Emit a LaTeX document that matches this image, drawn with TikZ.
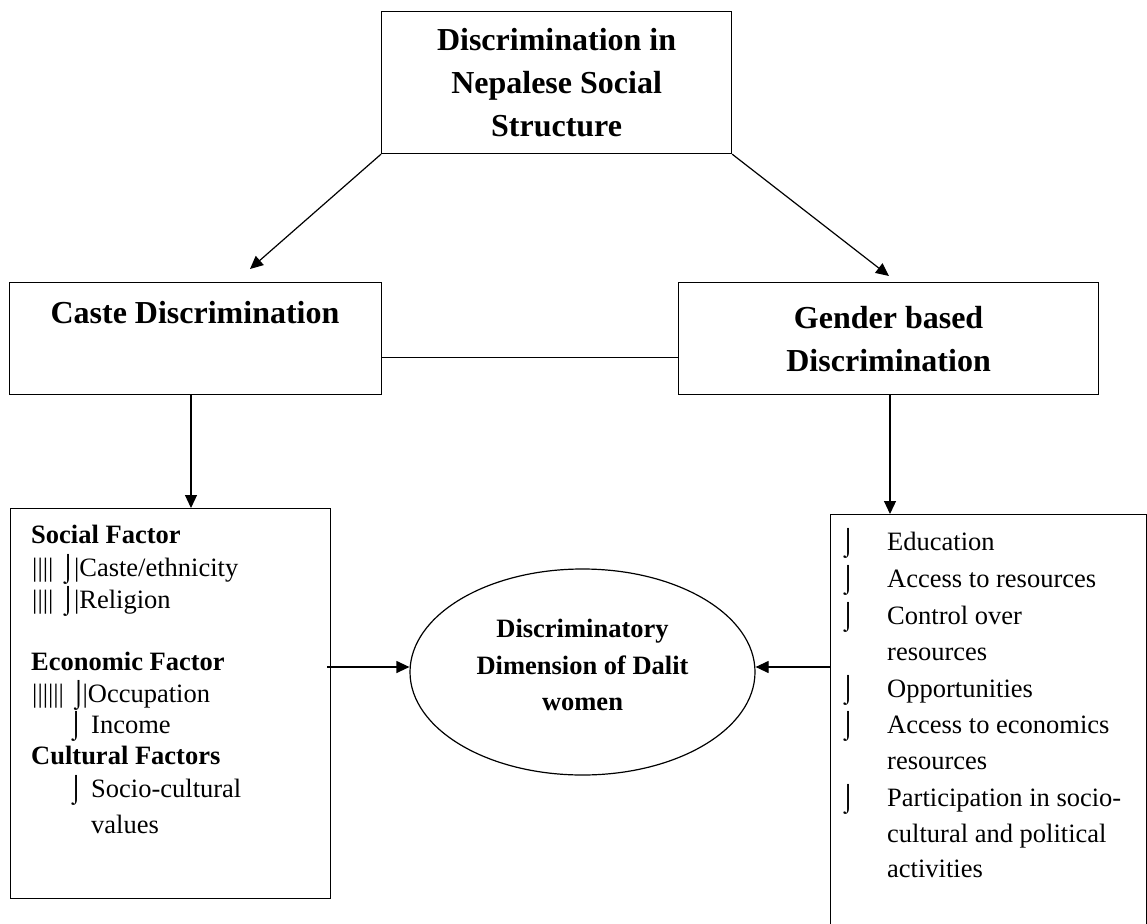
\documentclass[tikz,border=0pt]{standalone}
\usepackage{fontspec}
\setmainfont{Liberation Serif}
\usetikzlibrary{shapes.geometric,arrows.meta}
\begin{document}
\begin{tikzpicture}[x=1pt,y=-1pt,
  box/.style={draw,line width=1.2pt,rectangle,inner sep=0pt,anchor=north west},
  conn/.style={line width=1.2pt},
  arr/.style={line width=1.2pt,-{Triangle[length=13pt,width=12pt]}},
  head/.style={font=\fontsize{32}{43}\selectfont\bfseries,align=center,inner sep=0pt},
  body/.style={font=\fontsize{26.5}{36}\selectfont,inner sep=0pt,anchor=base west},
  bodyb/.style={font=\fontsize{26.5}{36}\selectfont\bfseries,inner sep=0pt,anchor=base west},
  elltext/.style={font=\fontsize{26.5}{36.5}\selectfont\bfseries,align=center,inner sep=0pt}]
\useasboundingbox[fill=white] (0,0) rectangle (1147,923);

% boxes
\node[box,minimum width=350pt,minimum height=142pt] (top) at (381,11) {};
\node[box,minimum width=372pt,minimum height=112pt] (caste) at (9,282) {};
\node[box,minimum width=420pt,minimum height=112pt] (gender) at (678,282) {};
\node[box,minimum width=320pt,minimum height=390pt] (lbox) at (10,508) {};
\begin{scope}
\clip (0,0) rectangle (1147,923);
\node[box,minimum width=316pt,minimum height=430pt] (rbox) at (830,514) {};
\end{scope}
\node[draw,line width=1.2pt,ellipse,minimum width=345pt,minimum height=206pt,inner sep=0pt] (ell) at (582.5,672) {};

% heading texts
\node[head] (toptext) at (top.center) {Discrimination in\\Nepalese Social\\Structure};
\node[head,anchor=base] (castetext) at (195,323) {Caste Discrimination};
\node[head] (gendertext) at (gender.center) {Gender based\\Discrimination};
\node[elltext] (elltxt) at (582.5,665) {Discriminatory\\Dimension of Dalit\\women};

% left box contents
\node[bodyb] (l1) at (31,543) {Social Factor};
\node[body] (l2) at (32,576) {||||\ \makebox[14pt][l]{⌡}|Caste/ethnicity};
\node[body] (l3) at (32,608) {||||\ \makebox[14pt][l]{⌡}|Religion};
\node[bodyb] (l4) at (31,670) {Economic Factor};
\node[body] (l5) at (32,702) {||||||\ \makebox[12pt][l]{⌡}|Occupation};
\node[body] (l6) at (68,733) {\makebox[23pt][l]{⌡}Income};
\node[bodyb] (l7) at (31,764) {Cultural Factors};
\node[body] (l8) at (68,797) {\makebox[23pt][l]{⌡}Socio-cultural};
\node[body] (l9) at (91,833) {values};

% right box contents
\foreach \yy/\tt [count=\i] in {550/Education,587/Access to resources,624/Control over,660/resources,697/Opportunities,733/Access to economics,769/resources,806/Participation in socio-,842/cultural and political,877/activities}
  \node[body] (rt\i) at (887,\yy) {\tt};
\foreach \yy [count=\i] in {550,587,624,697,733,806}
  \node[body] (rb\i) at (840,\yy) {⌡};

% connectors
\coordinate (tipL) at (250,269);
\coordinate (tipR) at (889,276);
\draw[arr] (top.south west) -- (tipL);
\draw[arr] (top.south east) -- (tipR);
\draw[conn] ([yshift=-19pt]caste.east) -- ([yshift=-19pt]gender.west);
\draw[arr] ([xshift=182pt]caste.south west) -- ([xshift=181pt]lbox.north west);
\draw[arr] ([xshift=212pt]gender.south west) -- ([xshift=60pt]rbox.north west);
\coordinate (la) at (327,667);
\draw[arr] (la) -- (ell.west |- la);
\draw[arr] (rbox.west |- la) -- (ell.east |- la);
\end{tikzpicture}
\end{document}
